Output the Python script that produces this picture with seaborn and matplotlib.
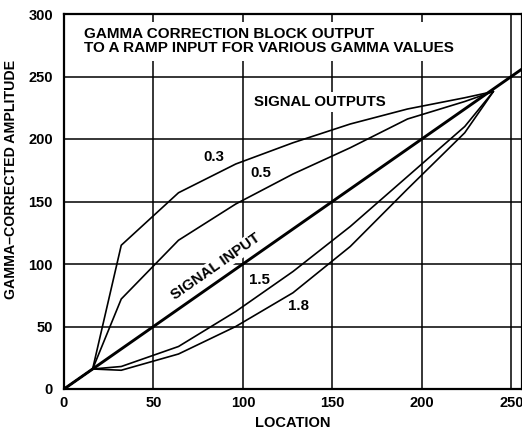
import matplotlib
matplotlib.use("Agg")
import matplotlib.pyplot as plt
import seaborn as sns
import pandas as pd

# ---- data ----
x_in = [0, 256]
y_in = [0, 256]

x_bp = [0, 16, 32, 64, 96, 128, 160, 192, 224, 240]
g03 = [0, 16, 115, 157, 180, 197, 212, 224, 233, 238]
g05 = [0, 16, 72, 119, 148, 172, 193, 216, 230, 238]
g15 = [0, 16, 18, 34, 62, 94, 130, 170, 210, 238]
g18 = [0, 16, 15, 28, 50, 77, 114, 160, 205, 238]

x_ticks = [0, 50, 100, 150, 200, 250]
y_ticks = [0, 50, 100, 150, 200, 250, 300]

title_text = "GAMMA CORRECTION BLOCK OUTPUT\nTO A RAMP INPUT FOR VARIOUS GAMMA VALUES"
x_label = "LOCATION"
y_label = "GAMMA\u2013CORRECTED AMPLITUDE"

sns.set_theme(style="white")
plt.rcParams['font.family'] = ['Liberation Sans', 'DejaVu Sans']
plt.rcParams['font.weight'] = 'bold'
plt.rcParams['text.color'] = 'black'
plt.rcParams['axes.labelcolor'] = 'black'
plt.rcParams['xtick.color'] = 'black'
plt.rcParams['ytick.color'] = 'black'

fig = plt.figure(figsize=(5.22, 4.29), dpi=100)
ax = fig.add_axes([64/522, 40/429, 458/522, 375/429])

series = {"0.3": g03, "0.5": g05, "1.5": g15, "1.8": g18}
for name, vals in series.items():
    df = pd.DataFrame({"x": x_bp, "y": vals})
    sns.lineplot(data=df, x="x", y="y", ax=ax, color="black", linewidth=1.2,
                 estimator=None, sort=False, zorder=3)

df_in = pd.DataFrame({"x": x_in, "y": y_in})
sns.lineplot(data=df_in, x="x", y="y", ax=ax, color="black", linewidth=2.1,
             estimator=None, sort=False, zorder=4)

ax.set_xlim(0, 256)
ax.set_ylim(0, 300)
ax.set_xticks(x_ticks)
ax.set_yticks(y_ticks)
ax.grid(True, color="black", linewidth=1.1, zorder=0)
ax.set_axisbelow(True)
for s in ax.spines.values():
    s.set_color("black")
    s.set_linewidth(1.6)
ax.tick_params(axis="both", length=0, labelsize=10.5, colors="black")
ax.tick_params(axis="y", pad=8)
ax.tick_params(axis="x", pad=5)
for lab in ax.get_xticklabels() + ax.get_yticklabels():
    lab.set_fontweight("bold")
    lab.set_color("black")

ax.set_xlabel(x_label, fontsize=10.5, fontweight="bold", color="black", labelpad=0)
ax.set_ylabel(y_label, fontsize=10.2, fontweight="bold", color="black")
ax.xaxis.set_label_coords(0.5, -0.072)
ax.yaxis.set_label_coords(-0.100, 0.56)

ax.text(11, 278, title_text, fontsize=11, fontweight="bold", ha="left", va="center",
        linespacing=1.0, zorder=2, color="black",
        bbox=dict(facecolor="white", edgecolor="none", pad=4))
ax.text(106, 229.5, "SIGNAL OUTPUTS", fontsize=10.8, fontweight="bold", ha="left", va="center",
        zorder=2, color="black", bbox=dict(facecolor="white", edgecolor="none", pad=2))
ax.text(85, 98, "SIGNAL INPUT", fontsize=10.8, fontweight="bold", ha="center", va="center",
        rotation=35, rotation_mode="anchor", zorder=2, color="black",
        bbox=dict(facecolor="white", edgecolor="none", pad=1))
for lbl, (tx, ty) in {"0.3": (84, 185.5), "0.5": (110, 173), "1.5": (109, 87.5), "1.8": (131, 66.5)}.items():
    ax.text(tx, ty, lbl, fontsize=10.8, fontweight="bold", ha="center", va="center",
            zorder=2, color="black")

fig.savefig("out.png", dpi=100)
